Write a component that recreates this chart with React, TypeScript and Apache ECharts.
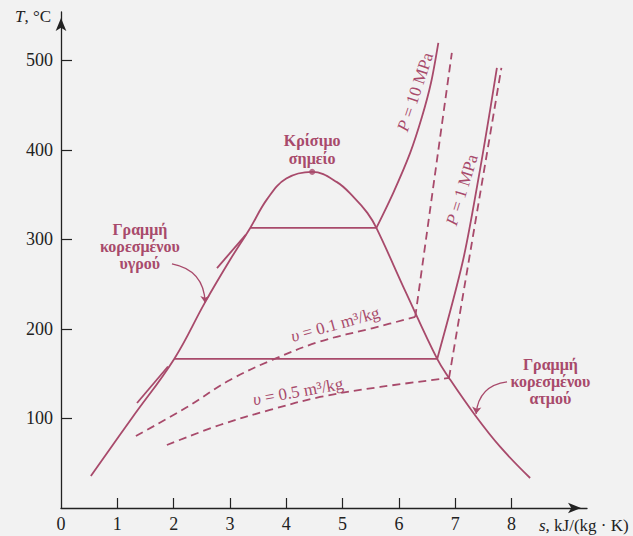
import React, { useEffect, useRef } from 'react';
import * as echarts from 'echarts';

// Tick labels
const xTickLabels = [0, 1, 2, 3, 4, 5, 6, 7, 8];
const xTickMarks = [1, 2, 3, 4, 5, 6, 7, 8];
const yTickLabels = [100, 200, 300, 400, 500];

// Saturation dome (s in kJ/(kg·K), T in °C)
const domeS = [0.53, 1.26, 2.01, 2.56, 3.0, 3.36, 3.66, 4.0, 4.46, 4.9, 5.2, 5.44, 5.6, 6.13, 6.68, 6.89, 7.35, 7.8, 8.33];
const domeT = [35.8, 100.5, 166.5, 230, 277, 312.8, 345, 368, 375.4, 364, 347, 329.6, 312.8, 240, 166.5, 145.3, 103.9, 68.2, 33.5];

// Critical point
const criticalS = [4.46];
const criticalT = [375.4];

// P = 10 MPa isobar
const p10WetS = [3.36, 5.6];
const p10WetT = [312.8, 312.8];
const p10SupS = [5.6, 5.9, 6.2, 6.41, 6.57, 6.7];
const p10SupT = [312.8, 352, 396.6, 436.9, 474.9, 519.6];
const p10LiqS = [2.77, 3.28];
const p10LiqT = [268, 305];

// P = 1 MPa isobar
const p1WetS = [2.01, 6.68];
const p1WetT = [166.5, 166.5];
const p1SupS = [6.68, 7.14, 7.44, 7.62, 7.74];
const p1SupT = [166.5, 277, 377.7, 444.7, 491.6];
const p1LiqS = [1.35, 1.9];
const p1LiqT = [117.3, 158];

// v = 0.1 m3/kg isochore
const v01WetS = [1.33, 2.24, 3.0, 3.75, 4.6, 5.54, 6.29];
const v01WetT = [80.4, 112.8, 143, 165.4, 186, 201, 213.4];
const v01SupS = [6.29, 6.94];
const v01SupT = [213.4, 508.4];

// v = 0.5 m3/kg isochore
const v05WetS = [1.88, 2.82, 3.71, 4.6, 5.67, 6.89];
const v05WetT = [70.4, 92.7, 109.5, 124, 135.2, 145.3];
const v05SupS = [6.89, 7.82];
const v05SupT = [145.3, 491.6];

const zip = (a: number[], b: number[]) => a.map((v, i) => [v, b[i]]);

export default function App() {
  const ref = useRef<HTMLDivElement>(null);
  useEffect(() => {
    const chart = echarts.init(ref.current as HTMLDivElement, null, { renderer: 'svg' });
    const color = '#a84a6b';
    const ink = '#222';
    const font = 'Liberation Serif';

    const solid = (data: number[][], smooth: number | boolean = false) => ({
      type: 'line', data, smooth, symbol: 'none', silent: true,
      lineStyle: { color, width: 1.8 },
    });
    const dashed = (data: number[][], smooth: number | boolean = false) => ({
      type: 'line', data, smooth, symbol: 'none', silent: true,
      lineStyle: { color, width: 1.8, type: [8, 5] },
    });

    chart.setOption({
      animation: false,
      backgroundColor: '#f2f2f2',
      grid: { left: 61, right: 46, top: 12, bottom: 28 },
      xAxis: {
        type: 'value', min: 0, max: 9.34, interval: 1,
        axisLine: { symbol: ['none', 'arrow'], symbolSize: [8, 13], symbolOffset: [0, -6], lineStyle: { color: ink, width: 1.3 } },
        axisTick: { inside: true, length: 10, customValues: xTickMarks, lineStyle: { color: ink, width: 1.2 } },
        axisLabel: { customValues: xTickLabels, fontFamily: font, fontSize: 18, color: ink, margin: 7 },
        splitLine: { show: false },
      },
      yAxis: {
        type: 'value', min: 0, max: 554, interval: 100,
        axisLine: { symbol: ['none', 'arrow'], symbolSize: [8, 13], symbolOffset: [0, -6], lineStyle: { color: ink, width: 1.3 } },
        axisTick: { inside: true, length: 11, customValues: yTickLabels, lineStyle: { color: ink, width: 1.2 } },
        axisLabel: { customValues: yTickLabels, fontFamily: font, fontSize: 18, color: ink, margin: 8 },
        splitLine: { show: false },
      },
      series: [
        solid(zip(domeS, domeT), 0.4),
        solid(zip(p10WetS, p10WetT)),
        solid(zip(p10SupS, p10SupT), 0.3),
        solid(zip(p10LiqS, p10LiqT)),
        solid(zip(p1WetS, p1WetT)),
        solid(zip(p1SupS, p1SupT), 0.3),
        solid(zip(p1LiqS, p1LiqT)),
        dashed(zip(v01WetS, v01WetT), 0.35),
        dashed(zip(v01SupS, v01SupT)),
        dashed(zip(v05WetS, v05WetT), 0.35),
        dashed(zip(v05SupS, v05SupT)),
        {
          type: 'scatter', data: zip(criticalS, criticalT), symbolSize: 6, silent: true,
          itemStyle: { color },
        },
        {
          type: 'lines', coordinateSystem: 'cartesian2d', silent: true,
          symbol: ['none', 'arrow'], symbolSize: 7,
          lineStyle: { color, width: 1.3, opacity: 1 },
          data: [
            { coords: [[1.97, 272.6], [2.56, 229]], lineStyle: { curveness: 0.4 } },
            { coords: [[7.92, 140.8], [7.37, 105]], lineStyle: { curveness: -0.4 } },
          ],
        },
      ],
    });

    const px = (s: number, T: number) => chart.convertToPixel({ gridIndex: 0 }, [s, T]) as number[];
    const txt = (s: number, T: number, text: string, opts: any = {}) => {
      const p = px(s, T);
      const fs = opts.fontSize || 16;
      return {
        type: 'text', x: p[0], y: p[1], rotation: opts.rotation || 0, silent: true,
        style: {
          text,
          fill: opts.fill || color,
          fontFamily: font,
          fontSize: fs,
          fontWeight: opts.bold ? 'bold' : 'normal',
          lineHeight: opts.lineHeight || 17,
          align: 'center', verticalAlign: 'middle',
          textAlign: 'center', textVerticalAlign: 'middle',
          rich: {
            i: { fontStyle: 'italic', fontFamily: font, fontSize: fs, fill: opts.fill || color },
          },
        },
      };
    };

    chart.setOption({
      graphic: [
        txt(1.4, 291.6, 'Γραμμή\nκορεσμένου\nυγρού', { bold: true, lineHeight: 17 }),
        txt(8.69, 140.8, 'Γραμμή\nκορεσμένου\nατμού', { bold: true, lineHeight: 17 }),
        txt(4.46, 400, 'Κρίσιμο\nσημείο', { bold: true, lineHeight: 18 }),
        txt(6.29, 464.8, '{i|P} = 10 MPa', { rotation: 1.25, fontSize: 17 }),
        txt(7.12, 355.3, '{i|P} = 1 MPa', { rotation: 1.27, fontSize: 17 }),
        txt(4.87, 205, '{i|υ} = 0.1 m³/kg', { rotation: 0.27, fontSize: 17 }),
        txt(4.21, 130, '{i|υ} = 0.5 m³/kg', { rotation: 0.18, fontSize: 17 }),
        {
          type: 'text', left: 15, top: 8, silent: true,
          style: {
            text: '{i|T}, °C', fill: ink, fontFamily: font, fontSize: 17,
            rich: { i: { fontStyle: 'italic', fontFamily: font, fontSize: 17, fill: ink } },
          },
        },
        {
          type: 'text', left: 539, top: 517, silent: true,
          style: {
            text: '{i|s}, kJ/(kg · K)', fill: ink, fontFamily: font, fontSize: 17,
            rich: { i: { fontStyle: 'italic', fontFamily: font, fontSize: 17, fill: ink } },
          },
        },
      ],
    });

    return () => chart.dispose();
  }, []);
  return <div ref={ref} style={{ position: 'fixed', left: 0, top: 0, width: 633, height: 536 }} />;
}
